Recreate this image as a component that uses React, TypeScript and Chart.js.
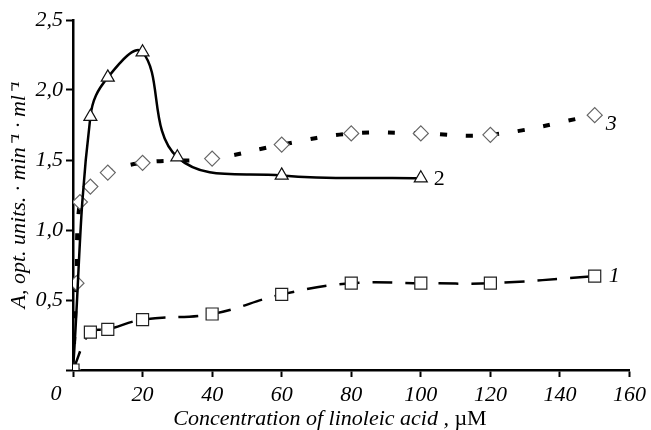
import React, { useEffect, useRef } from 'react';
import { Chart, registerables } from 'chart.js';

Chart.register(...registerables);

// Curve 1 (squares, dashed)
const concentration1 = [0, 5, 10, 20, 40, 60, 80, 100, 120, 150];
const activity1 = [0, 0.27, 0.29, 0.36, 0.4, 0.54, 0.62, 0.62, 0.62, 0.67];
// Curve 2 (triangles, solid)
const concentration2 = [0, 5, 10, 20, 30, 60, 100];
const activity2 = [0, 1.81, 2.09, 2.27, 1.52, 1.39, 1.37];
// Curve 3 (diamonds, dotted)
const concentration3 = [0, 1, 2, 5, 10, 20, 40, 60, 80, 100, 120, 150];
const activity3 = [0, 0.62, 1.2, 1.31, 1.41, 1.48, 1.51, 1.61, 1.69, 1.69, 1.68, 1.82];

const curveNames = ['1', '2', '3'];
const xTickValues = [0, 20, 40, 60, 80, 100, 120, 140, 160];
const yTickValues = [0, 0.5, 1, 1.5, 2, 2.5];
const xTitleMain = 'Concentration of linoleic acid , ';
const xTitleUnit = 'µM';
const yTitle = 'A, opt. units. · min⁻¹ · ml⁻¹';

const SERIF = '"Liberation Serif", "Times New Roman", serif';
const FS = 22;

const toPoints = (xs: number[], ys: number[]) => xs.map((x, i) => ({ x, y: ys[i] }));

const annotate = {
  id: 'annotate',
  afterDraw(chart: any) {
    const { ctx } = chart;
    const x = chart.scales.x;
    const y = chart.scales.y;
    ctx.save();
    ctx.fillStyle = '#000';
    ctx.textBaseline = 'middle';
    // "0" tick label (offset to the left of the origin, as in the source)
    ctx.font = `italic ${FS}px ${SERIF}`;
    ctx.textAlign = 'center';
    ctx.fillText(String(xTickValues[0]), x.getPixelForValue(xTickValues[0]) - 17, 394);

    // Curve labels next to the last point of each curve
    const ends = [
      { xs: concentration1, ys: activity1, dx: 14, dy: 0, italic: true },
      { xs: concentration2, ys: activity2, dx: 13, dy: 1, italic: false },
      { xs: concentration3, ys: activity3, dx: 11, dy: 9, italic: true },
    ];
    ctx.textAlign = 'left';
    ends.forEach((e, i) => {
      const lx = e.xs[e.xs.length - 1];
      const ly = e.ys[e.ys.length - 1];
      ctx.font = `${e.italic ? 'italic ' : ''}${FS}px ${SERIF}`;
      ctx.fillText(curveNames[i], x.getPixelForValue(lx) + e.dx, y.getPixelForValue(ly) + e.dy);
    });

    // X axis title: italic text + upright unit
    ctx.textBaseline = 'alphabetic';
    ctx.font = `italic ${FS}px ${SERIF}`;
    const w1 = ctx.measureText(xTitleMain).width;
    ctx.font = `${FS}px ${SERIF}`;
    const w2 = ctx.measureText(xTitleUnit).width;
    const start = 330 - (w1 + w2) / 2;
    ctx.font = `italic ${FS}px ${SERIF}`;
    ctx.fillText(xTitleMain, start, 425);
    ctx.font = `${FS}px ${SERIF}`;
    ctx.fillText(xTitleUnit, start + w1, 425);
    ctx.restore();
  },
};

export default function App() {
  const canvasRef = useRef<HTMLCanvasElement | null>(null);

  useEffect(() => {
    if (!canvasRef.current) return;
    const tickFont = { family: SERIF, style: 'italic' as const, size: FS };
    const chart = new Chart(canvasRef.current, {
      type: 'line',
      data: {
        datasets: [
          {
            label: curveNames[0],
            data: toPoints(concentration1, activity1),
            borderColor: '#000',
            borderWidth: 2.5,
            borderDash: [20, 13],
            tension: 0.4,
            pointStyle: 'rect',
            pointRadius: 8.5,
            pointBorderWidth: 1.2,
            pointBorderColor: '#222',
            pointBackgroundColor: '#fff',
          },
          {
            label: curveNames[1],
            data: toPoints(concentration2, activity2),
            borderColor: '#000',
            borderWidth: 2.5,
            tension: 0.4,
            pointStyle: 'triangle',
            pointRadius: 7.5,
            pointBorderWidth: 1.2,
            pointBorderColor: '#111',
            pointBackgroundColor: '#fff',
          },
          {
            label: curveNames[2],
            data: toPoints(concentration3, activity3),
            borderColor: '#000',
            borderWidth: 4,
            borderDash: [7, 19],
            tension: 0.4,
            pointStyle: 'rectRot',
            pointRadius: 7.5,
            pointBorderWidth: 1.2,
            pointBorderColor: '#666',
            pointBackgroundColor: '#fff',
          },
        ],
      },
      options: {
        animation: false,
        responsive: true,
        maintainAspectRatio: false,
        layout: { padding: { top: 20, right: 21, left: 0, bottom: 0 } },
        plugins: {
          legend: { display: false },
          tooltip: { enabled: false },
        },
        scales: {
          x: {
            type: 'linear',
            min: xTickValues[0],
            max: xTickValues[xTickValues.length - 1],
            afterBuildTicks: (s: any) => {
              s.ticks = xTickValues.map((v) => ({ value: v }));
            },
            afterFit: (s: any) => {
              s.height = 60;
            },
            grid: { drawOnChartArea: false, drawTicks: true, tickLength: 7, tickWidth: 2, tickColor: '#000' },
            border: { display: true, color: '#000', width: 2.5 },
            ticks: {
              color: '#000',
              font: tickFont,
              padding: 5,
              maxRotation: 0,
              autoSkip: false,
              callback: (v: any) => (v === 0 ? '' : String(v)),
            },
          },
          y: {
            type: 'linear',
            min: yTickValues[0],
            max: yTickValues[yTickValues.length - 1],
            afterBuildTicks: (s: any) => {
              s.ticks = yTickValues.map((v) => ({ value: v }));
            },
            afterFit: (s: any) => {
              s.width = 73;
            },
            grid: { drawOnChartArea: false, drawTicks: true, tickLength: 7, tickWidth: 2, tickColor: '#000' },
            border: { display: true, color: '#000', width: 2.5 },
            ticks: {
              color: '#000',
              font: tickFont,
              padding: 3,
              autoSkip: false,
              callback: (v: any) => (v === 0 ? '' : Number(v).toFixed(1).replace('.', ',')),
            },
            title: {
              display: true,
              text: yTitle,
              color: '#000',
              font: { family: SERIF, style: 'italic', size: FS },
              padding: { top: 6, bottom: 0 },
            },
          },
        },
      },
      plugins: [annotate],
    } as any);
    return () => chart.destroy();
  }, []);

  return (
    <div style={{ position: 'fixed', left: 0, top: 0, width: 651, height: 430, background: '#fff' }}>
      <canvas ref={canvasRef} />
    </div>
  );
}
